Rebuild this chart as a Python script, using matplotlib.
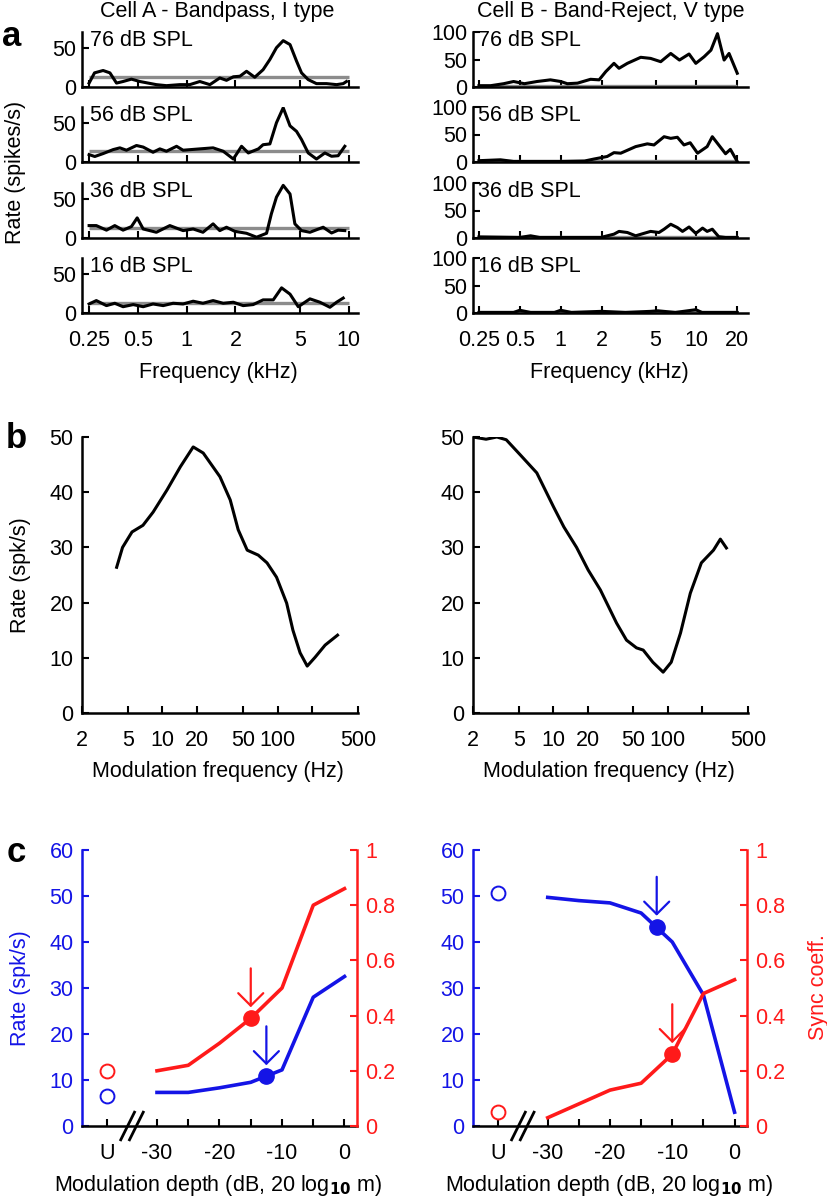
import numpy as np
import matplotlib.pyplot as plt

plt.rcParams['font.family'] = ['Liberation Sans', 'DejaVu Sans']
plt.rcParams['font.size'] = 15.5
plt.rcParams['axes.unicode_minus'] = False
plt.rcParams['axes.linewidth'] = 1.8

# ---------------- panel a: frequency response maps ----------------
levels = ['76 dB SPL', '56 dB SPL', '36 dB SPL', '16 dB SPL']

# Cell A (bandpass)
fA76 = [0.25, 0.27, 0.305, 0.336, 0.369, 0.405, 0.456, 0.514, 0.578, 0.65, 0.75, 0.907, 1.045, 1.205,
        1.39, 1.6, 1.76, 1.94, 2.13, 2.34, 2.63, 2.96, 3.26, 3.58, 3.94, 4.34, 4.76, 5.11, 5.62, 6.32,
        7.29, 8.41, 9.24, 9.68]
rA76 = [5, 18, 21, 18, 5, 7, 10, 7, 5, 3, 1.7, 3, 3, 7, 3, 11.5, 8.5, 13, 13.7, 20, 12.4, 22, 35, 50,
        59, 54, 33, 18, 9.4, 4.3, 4.3, 3, 4.3, 7]
fA56 = [0.25, 0.271, 0.305, 0.352, 0.387, 0.425, 0.49, 0.539, 0.62, 0.683, 0.75, 0.866, 0.95, 1.205,
        1.455, 1.68, 1.94, 2.18, 2.4, 2.77, 2.96, 3.26, 3.58, 3.94, 4.34, 4.76, 5.11, 5.62, 6.32, 7.12,
        7.83, 8.6, 9.45]
rA56 = [9.4, 7, 10.7, 15.8, 18, 15, 21, 19, 12.4, 16.7, 13.7, 20, 15, 16.7, 18, 13.7, 3.8, 20, 11.5,
        16.7, 22, 23, 50, 69, 46, 39, 28.6, 11.5, 3.8, 11.5, 7.3, 8, 20]
fA36 = [0.25, 0.277, 0.32, 0.36, 0.405, 0.456, 0.495, 0.539, 0.65, 0.787, 0.95, 1.096, 1.26, 1.455,
        1.6, 1.76, 1.98, 2.34, 2.7, 3.11, 3.33, 3.58, 3.94, 4.34, 4.65, 5.11, 5.76, 6.95, 7.83, 8.6, 9.45]
rA36 = [15.8, 15.8, 10, 15.8, 10, 14.5, 25.6, 11.5, 7.3, 15.8, 9.4, 11.5, 7.3, 18, 9.4, 13.7, 8.5, 6,
        1, 6, 30.8, 52, 67, 56, 18, 9.4, 7.3, 13.7, 6.4, 10, 9.4]
fA16 = [0.25, 0.277, 0.32, 0.36, 0.405, 0.468, 0.539, 0.62, 0.716, 0.825, 0.95, 1.096, 1.26, 1.455,
        1.68, 1.94, 2.23, 2.57, 2.96, 3.42, 3.85, 4.34, 4.88, 5.76, 6.64, 7.65, 8.41, 9.24]
rA16 = [11.5, 15.8, 9.4, 12.4, 8, 10.7, 8, 11.5, 9.4, 12.4, 11.5, 15, 12.4, 15.8, 12.4, 13.7, 9.4,
        10.7, 16.7, 16.7, 32, 24, 8, 18, 13.7, 7.3, 13.7, 19]
spontA = [12.8, 13.7, 12.4, 12.4]

# Cell B (band-reject)
fB76 = [0.25, 0.305, 0.38, 0.45, 0.54, 0.67, 0.84, 1.0, 1.12, 1.33, 1.66, 1.92, 2.15, 2.47, 2.69, 3.1,
        3.89, 4.6, 5.46, 6.47, 7.5, 8.83, 9.9, 11.4, 12.8, 14.3, 16.0, 17.4, 20]
rB76 = [2.4, 2.4, 6, 10, 6, 10, 13, 10, 6, 7, 14, 13, 28, 43, 34, 43, 54, 52, 46, 61, 49, 60, 43, 55,
        67, 97, 49, 61, 25]
fB56 = [0.25, 0.36, 0.45, 1.0, 1.5, 1.76, 2.2, 2.47, 2.77, 3.57, 4.35, 4.87, 5.78, 6.47, 7.24, 8.1,
        9.0, 10.2, 12.0, 13.1, 14.6, 16.4, 17.8, 20]
rB56 = [2.4, 4, 1, 1, 1.8, 5.4, 10, 17, 16, 28, 33, 31, 46, 43, 45, 31, 35, 16, 28, 46, 31, 15, 23, 1]
fB36 = [0.25, 0.5, 0.6, 0.7, 1.0, 1.98, 2.47, 2.69, 3.1, 3.57, 4.1, 4.6, 5.3, 5.78, 6.47, 7.24, 7.9,
        8.83, 9.9, 11.1, 12.0, 13.1, 14.6, 16.4, 20]
rB36 = [2, 1, 4, 1, 1, 1, 7, 12, 10, 4, 8.4, 12, 10, 16, 25, 19, 12, 20, 8.4, 18, 12, 16, 2.4, 1, 1]
fB16 = [0.25, 0.45, 0.5, 0.6, 0.9, 1.0, 1.2, 2.0, 3.0, 4.6, 5.2, 7.0, 9.9, 11.0, 20]
rB16 = [1, 1, 5, 1, 1, 5, 1, 3, 1, 3, 4, 1, 6, 1, 1]
spontB = [1, 1, 1, 1]

# ---------------- panel b: modulation transfer functions ----------------
modA = [4.0, 4.5, 5.44, 6.77, 8.3, 10.95, 14.3, 18.5, 22.6, 31.6, 38.8, 45.5, 54.5, 68, 81, 98, 120,
        136, 157, 181, 212, 259, 332]
mtfA = [26.4, 30, 32.8, 34, 36.4, 40.4, 44.6, 48.2, 47.1, 42.8, 38.6, 33.2, 29.5, 28.6, 27.2, 24.6,
        19.9, 15, 10.9, 8.5, 10.1, 12.3, 14.1]
modB = [2.0, 2.6, 3.23, 3.9, 5.2, 7.2, 10.1, 12.4, 16, 20.2, 25.8, 35.7, 43.6, 53.3, 61, 74, 91, 107,
        129, 157, 196, 250, 287, 324]
mtfB = [50, 49.6, 50, 49.5, 46.7, 43.5, 37.3, 33.7, 30, 25.9, 22.3, 16.3, 13.2, 11.8, 11.4, 9.2, 7.4,
        9.2, 14.5, 21.7, 27.2, 29.5, 31.5, 29.9]

# ---------------- panel c: modulation depth functions ----------------
depth = [-30, -25, -20, -15, -10, -5, 0]
rateA_c = [7.3, 7.3, 8.3, 9.5, 12.2, 28, 32.5]
syncA_c = [0.2, 0.22, 0.3, 0.39, 0.5, 0.8, 0.86]
rateB_c = [49.7, 49, 48.5, 46.3, 40, 28.5, 3]
syncB_c = [0.03, 0.08, 0.13, 0.155, 0.26, 0.48, 0.53]
unmod_rate = [6.5, 50.7]
unmod_sync = [0.2, 0.05]
thr_rate = [(-12.5, 10.8), (-12.5, 43.3)]
thr_sync = [(-15, 0.39), (-10, 0.26)]

BLUE = '#1414e6'
RED = '#ff1a1a'
GRAY = '#8c8c8c'
FS = 15.5

W, H = 828, 1203
fig = plt.figure(figsize=(W / 100, H / 100), dpi=100)


def box(x0, x1, ytop, ybot):
    return [x0 / W, 1 - ybot / H, (x1 - x0) / W, (ybot - ytop) / H]


def ftext(x, y, s, **kw):
    # place text at pixel position (from top-left)
    fig.text(x / W, 1 - y / H, s, ha='center', va='center', **kw)


def style(ax):
    for s in ['top', 'right']:
        ax.spines[s].set_visible(False)
    ax.tick_params(direction='in', length=5, width=1.5, pad=6, labelsize=FS)
    ax.minorticks_off()


# panel a
cellA = [(fA76, rA76), (fA56, rA56), (fA36, rA36), (fA16, rA16)]
cellB = [(fB76, rB76), (fB56, rB56), (fB36, rB36), (fB16, rB16)]
bottoms = [87, 162, 238, 313]
for col, (cell, spont, x0, x1, xlim, xt, ymax, yt) in enumerate([
        (cellA, spontA, 82, 358, (0.226, 11.4), [0.25, 0.5, 1, 2, 5, 10], 70, [0, 50]),
        (cellB, spontB, 473, 748, (0.226, 24), [0.25, 0.5, 1, 2, 5, 10, 20], 100, [0, 50, 100])]):
    for i, ((f, r), sp, yb) in enumerate(zip(cell, spont, bottoms)):
        ax = fig.add_axes(box(x0, x1, yb - 55, yb))
        style(ax)
        ax.set_xscale('log')
        ax.plot([xt[0], xt[-1]], [sp, sp], color=GRAY, lw=2.4, solid_capstyle='butt')
        ax.plot(f, r, color='black', lw=2.2)
        ax.set_xlim(*xlim)
        ax.set_ylim(0, ymax)
        ax.set_yticks(yt)
        ax.set_xticks(xt)
        ax.minorticks_off()
        ax.tick_params(axis='y', pad=4)
        ax.tick_params(axis='x', pad=12)
        if i == 3:
            ax.set_xticklabels([str(v) for v in xt])
        else:
            ax.set_xticklabels([])
        ax.text(0.03 if col == 0 else 0.02, 1.03, levels[i], transform=ax.transAxes,
                ha='left', va='top', fontsize=FS)

ftext(217, 11, 'Cell A - Bandpass, I type', fontsize=FS)
ftext(611, 11, 'Cell B - Band-Reject, V type', fontsize=FS)
ftext(218, 372, 'Frequency (kHz)', fontsize=FS)
ftext(609, 372, 'Frequency (kHz)', fontsize=FS)
ftext(16, 172, 'Rate (spikes/s)', rotation=90, fontsize=FS)

# panel b
for x0, x1, mf, mr in [(82, 358, modA, mtfA), (473, 748, modB, mtfB)]:
    ax = fig.add_axes(box(x0, x1, 437, 713))
    style(ax)
    ax.set_xscale('log')
    ax.plot(mf, mr, color='black', lw=2.2)
    ax.set_xlim(2, 500)
    ax.set_ylim(0, 50)
    ax.set_yticks([0, 10, 20, 30, 40, 50])
    ax.set_xticks([2, 5, 10, 20, 50, 100, 200, 500])
    ax.set_xticklabels(['2', '5', '10', '20', '50', '100', '', '500'])
    ax.minorticks_off()
    ax.tick_params(axis='x', pad=12)
ftext(218, 772, 'Modulation frequency (Hz)', fontsize=FS)
ftext(609, 772, 'Modulation frequency (Hz)', fontsize=FS)
ftext(21, 575, 'Rate (spk/s)', rotation=90, fontsize=FS)

# panel c
U = -38
sets = [(82, 357, rateA_c, syncA_c, 0), (473, 747, rateB_c, syncB_c, 1)]
for x0, x1, rr, ss, k in sets:
    ax = fig.add_axes(box(x0, x1, 850, 1126))
    ax2 = ax.twinx()
    ax.spines['top'].set_visible(False)
    ax2.spines['top'].set_visible(False)
    ax.spines['right'].set_visible(False)
    ax2.spines['left'].set_visible(False)
    ax2.spines['bottom'].set_visible(False)
    ax.spines['left'].set_color(BLUE)
    ax2.spines['right'].set_color(RED)
    ax2.spines['right'].set_linewidth(1.8)
    ax.tick_params(direction='in', length=5, width=1.5, pad=6, labelsize=FS)
    ax.tick_params(axis='y', colors=BLUE)
    ax.tick_params(axis='x', pad=12)
    ax2.tick_params(direction='in', length=5, width=1.5, pad=6, colors=RED, labelsize=FS)

    ax.plot(depth, rr, color=BLUE, lw=2.6, zorder=3)
    ax2.plot(depth, ss, color=RED, lw=2.6, zorder=3)
    ax.plot([U], [unmod_rate[k]], 'o', ms=10, mfc='white', mec=BLUE, mew=1.4)
    ax2.plot([U], [unmod_sync[k]], 'o', ms=10, mfc='white', mec=RED, mew=1.4)
    tx, ty = thr_rate[k]
    ax.plot([tx], [ty], 'o', ms=11, color=BLUE, zorder=4)
    ax.annotate('', xy=(tx, ty), xytext=(0, 36), textcoords='offset points',
                arrowprops=dict(arrowstyle='->, head_length=0.5, head_width=0.5', color=BLUE,
                                lw=1.6, mutation_scale=18, shrinkA=0, shrinkB=8))
    sx, sy = thr_sync[k]
    ax2.plot([sx], [sy], 'o', ms=11, color=RED, zorder=4)
    ax2.annotate('', xy=(sx, sy), xytext=(0, 36), textcoords='offset points',
                 arrowprops=dict(arrowstyle='->, head_length=0.5, head_width=0.5', color=RED,
                                 lw=1.6, mutation_scale=18, shrinkA=0, shrinkB=8))

    ax.set_xlim(-42, 2)
    ax.set_ylim(0, 60)
    ax2.set_ylim(0, 1)
    ax.set_yticks([0, 10, 20, 30, 40, 50, 60])
    ax2.set_yticks([0, 0.2, 0.4, 0.6, 0.8, 1])
    ax2.set_yticklabels(['0', '0.2', '0.4', '0.6', '0.8', '1'])
    ax.set_xticks([U, -30, -25, -20, -15, -10, -5, 0])
    ax.set_xticklabels(['U', '-30', '', '-20', '', '-10', '', '0'])
    # axis break marks
    for dx in (0, 1.4):
        ax.plot([-35.8 + dx, -33.6 + dx], [-3.0, 3.0], color='black', lw=2.0, clip_on=False, zorder=5)

ftext(218, 1185, r'Modulation depth (dB, 20 log$_{\mathbf{10}}$ m)', fontsize=FS)
ftext(609, 1185, r'Modulation depth (dB, 20 log$_{\mathbf{10}}$ m)', fontsize=FS)
ftext(21, 988, 'Rate (spk/s)', rotation=90, color=BLUE, fontsize=FS)
ftext(819, 987, 'Sync coeff.', rotation=90, color=RED, fontsize=FS)

# panel letters
ftext(12, 36, 'a', fontsize=25, fontweight='bold')
ftext(16, 439, 'b', fontsize=25, fontweight='bold')
ftext(16, 852, 'c', fontsize=25, fontweight='bold')

fig.savefig('out.png', dpi=100)
